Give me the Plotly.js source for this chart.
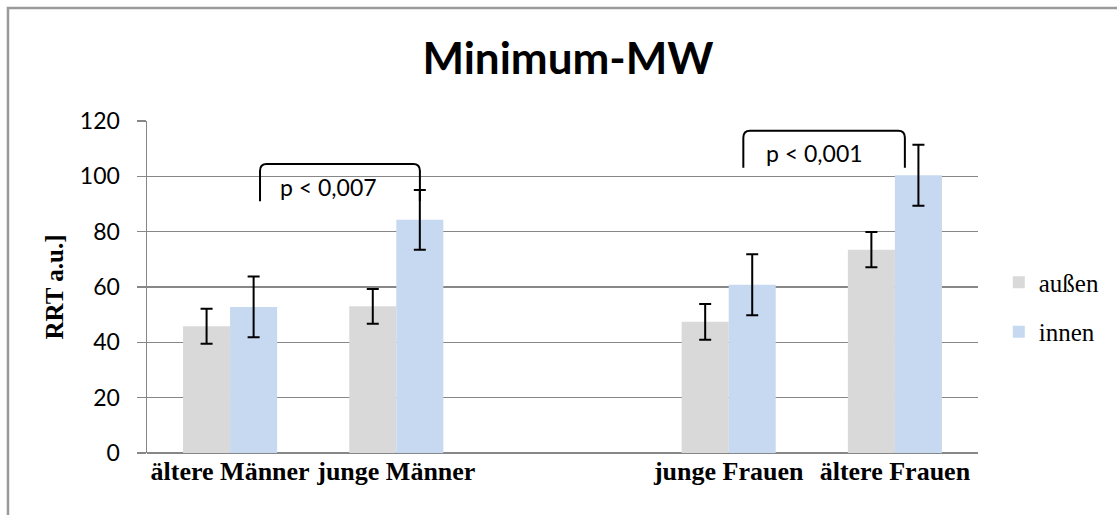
<!DOCTYPE html>
<html>
<head>
<meta charset="utf-8">
<script src="https://cdn.plot.ly/plotly-3.0.1.min.js"></script>
<style>html,body{margin:0;padding:0;background:#fff;}#chart{width:1117px;height:515px;}</style>
</head>
<body>
<div id="chart"></div>
<script>
// ---- data ----
const categories = ['ältere Männer', 'junge Männer', 'junge Frauen', 'ältere Frauen'];
const axisOrder = ['ältere Männer', 'junge Männer', ' ', 'junge Frauen', 'ältere Frauen'];
const aussen = [45.8, 53.0, 47.4, 73.5];
const aussenErr = [6.3, 6.3, 6.5, 6.4];
const innen = [52.8, 84.3, 60.8, 100.4];
const innenErr = [11.0, 10.8, 11.0, 11.0];
const seriesNames = ['außen', 'innen'];
const yTicks = [0, 20, 40, 60, 80, 100, 120];
const pLabels = ['p < 0,007', 'p < 0,001'];

const grid = '#878787';
const traces = [
  {type: 'bar', name: seriesNames[0], x: categories, y: aussen, legendgroup: 'a',
   marker: {color: '#d9d9d9'},
   error_y: {type: 'data', array: aussenErr, visible: true, color: '#000', thickness: 2, width: 6}},
  {type: 'bar', name: seriesNames[1], x: categories, y: innen, legendgroup: 'b',
   marker: {color: '#c6d9f1'},
   error_y: {type: 'data', array: innenErr, visible: true, color: '#000', thickness: 2, width: 6}}
];

function bracket(x0, x1, yb, yt) {
  const r = 0.04, ry = 2.5;
  return `M${x0},${yb} L${x0},${yt - ry} Q${x0},${yt} ${x0 + r},${yt} L${x1 - r},${yt} Q${x1},${yt} ${x1},${yt - ry} L${x1},${yb}`;
}

const layout = {
  width: 1117, height: 515,
  margin: {l: 147, r: 139, t: 121, b: 62},
  paper_bgcolor: '#fff', plot_bgcolor: '#fff',
  barmode: 'group', bargap: 0.434, bargroupgap: 0,
  showlegend: true,
  title: {text: '<b>Minimum-MW</b>', x: 0.5085, xanchor: 'center', y: 0.887, yanchor: 'middle',
          font: {family: 'Lato', size: 44, color: '#000'}},
  xaxis: {type: 'category', categoryorder: 'array', categoryarray: axisOrder, range: [-0.5, 4.5],
          showgrid: false, showline: false, zeroline: false, ticks: '',
          tickfont: {family: 'Liberation Serif', size: 26, color: '#000'},
          tickprefix: '<b>', ticksuffix: '</b>'},
  yaxis: {range: [0, 120], tickvals: yTicks, showgrid: true, gridcolor: grid, gridwidth: 1.5,
          showline: true, linecolor: grid, linewidth: 1.5, zeroline: true, zerolinecolor: grid, zerolinewidth: 1.5,
          ticks: 'outside', ticklen: 9, tickcolor: grid, tickwidth: 1.5, ticklabelstandoff: 12,
          tickfont: {family: 'Lato', size: 23, color: '#000'},
          title: {text: '<b>RRT a.u.]</b>', standoff: 9,
                  font: {family: 'Liberation Serif', size: 25, color: '#000'}}},
  legend: {x: 1.025, xanchor: 'left', y: 0.44, yanchor: 'middle', traceorder: 'grouped', tracegroupgap: 14,
           font: {family: 'Liberation Serif', size: 25, color: '#000'}, itemwidth: 30, bgcolor: 'rgba(0,0,0,0)'},
  shapes: [
    {type: 'rect', xref: 'paper', yref: 'paper', x0: -0.1673, x1: 1.2, y0: -0.4, y1: 1.340,
     line: {color: '#9a9a9a', width: 2.5}, fillcolor: 'rgba(0,0,0,0)'},
    {type: 'path', xref: 'x', yref: 'y', path: bracket(0.18, 1.142, 91, 104.5), line: {color: '#000', width: 2}},
    {type: 'path', xref: 'x', yref: 'y', path: bracket(3.088, 4.06, 103.1, 116.5), line: {color: '#000', width: 2}}
  ],
  annotations: [
    {x: 0.595, y: 96.3, xref: 'x', yref: 'y', text: pLabels[0], showarrow: false,
     font: {family: 'Lato', size: 23, color: '#000'}},
    {x: 3.516, y: 108.5, xref: 'x', yref: 'y', text: pLabels[1], showarrow: false,
     font: {family: 'Lato', size: 23, color: '#000'}}
  ]
};
Plotly.newPlot('chart', traces, layout, {staticPlot: true, displayModeBar: false});
</script>
</body>
</html>
